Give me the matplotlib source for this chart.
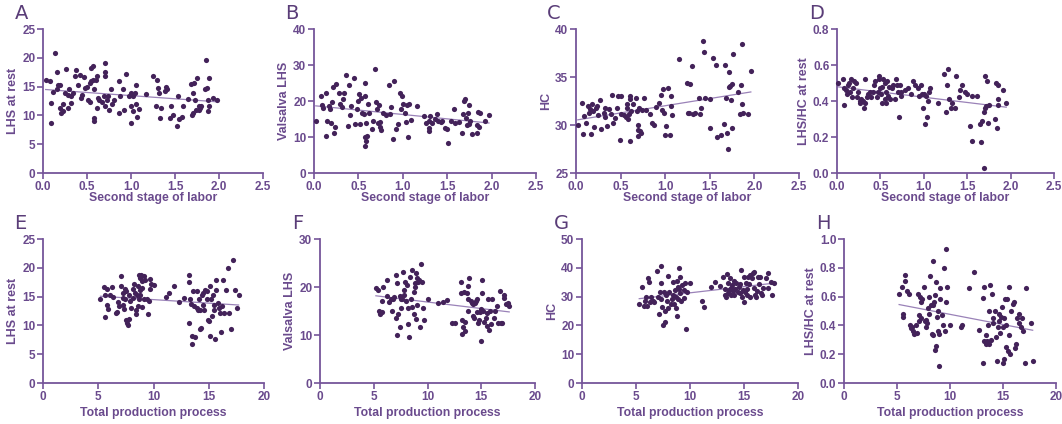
import numpy as np
import matplotlib
matplotlib.use("Agg")
import matplotlib.pyplot as plt
from matplotlib.ticker import FormatStrFormatter

plt.rcParams['font.family'] = ['Liberation Sans', 'DejaVu Sans']

# ---------------- data ----------------
A_x = [0.03,0.08,0.09,0.09,0.11,0.14,0.16,0.16,0.17,0.19,0.19,0.21,0.23,0.23,0.25,0.26,0.28,0.29,0.28,0.32,
       0.32,0.34,0.36,0.38,0.40,0.42,0.43,0.44,0.47,0.48,0.50,0.51,0.53,0.53,0.55,0.55,0.57,0.57,0.58,0.58,
       0.58,0.60,0.61,0.61,0.63,0.64,0.67,0.69,0.70,0.71,0.71,0.71,0.73,0.74,0.75,0.77,0.78,0.81,0.86,0.86,
       0.88,0.91,0.92,0.94,0.98,1.00,1.00,1.00,1.02,1.02,1.04,1.06,1.06,1.07,1.09,1.17,1.25,1.28,1.30,1.31,
       1.32,1.33,1.34,1.39,1.40,1.41,1.44,1.46,1.48,1.52,1.53,1.55,1.58,1.59,1.65,1.68,1.69,1.70,1.70,1.72,
       1.73,1.74,1.75,1.77,1.77,1.78,1.80,1.84,1.85,1.86,1.88,1.88,1.89,1.89,1.93,1.98]
A_y = [16.2,15.9,12.2,8.7,14.0,20.8,17.5,14.5,15.3,15.3,11.3,10.4,11.9,10.7,13.9,18.1,13.6,14.5,11.2,12.2,
       13.3,13.9,16.8,17.8,15.2,17.1,13.0,13.6,16.7,14.8,15.0,12.7,12.4,15.6,15.9,18.2,16.2,18.5,14.5,9.5,
       9.0,16.2,16.8,11.3,13.0,12.7,12.4,13.3,16.9,17.6,19.1,11.6,12.7,13.3,11.0,14.5,11.9,12.7,15.9,10.4,
       13.3,14.5,11.0,17.2,13.3,13.9,11.7,8.6,13.3,10.7,13.9,15.3,12.0,9.8,11.1,13.7,16.9,11.6,16.1,14.8,
       13.9,9.5,11.3,14.2,14.9,14.6,9.5,11.6,10.1,8.1,13.3,9.3,9.8,11.7,12.9,15.5,10.1,10.5,13.9,15.6,
       12.7,11.0,16.5,11.6,11.0,11.3,11.6,14.6,19.7,14.8,12.7,10.8,16.5,11.7,13.0,12.7]

B_x = [0.02,0.08,0.09,0.10,0.13,0.14,0.15,0.17,0.18,0.19,0.20,0.21,0.23,0.24,0.25,0.28,0.29,0.31,0.33,0.34,
       0.36,0.38,0.39,0.40,0.42,0.45,0.46,0.48,0.50,0.51,0.52,0.53,0.54,0.56,0.57,0.57,0.57,0.57,0.59,0.59,
       0.60,0.61,0.62,0.65,0.67,0.69,0.70,0.71,0.72,0.73,0.74,0.74,0.76,0.78,0.81,0.85,0.86,0.87,0.89,0.90,
       0.92,0.95,0.97,0.98,0.99,1.00,1.02,1.04,1.05,1.06,1.07,1.09,1.16,1.24,1.26,1.29,1.29,1.30,1.31,1.33,
       1.36,1.39,1.40,1.43,1.44,1.47,1.50,1.51,1.54,1.58,1.59,1.63,1.67,1.68,1.69,1.70,1.71,1.72,1.73,1.74,
       1.75,1.76,1.78,1.83,1.84,1.85,1.86,1.87,1.93,1.97]
B_y = [14.4,21.4,18.8,18.1,10.2,22.3,14.4,18.6,17.9,13.8,19.7,24.0,11.2,12.8,24.7,22.3,19.1,18.4,20.5,22.3,
       27.2,13.0,24.4,16.0,18.6,26.3,13.5,17.7,20.0,22.0,13.5,20.7,16.7,16.3,24.9,10.0,7.6,21.4,14.0,8.8,
       10.2,19.3,16.7,12.3,14.4,28.8,19.7,17.7,14.0,18.8,12.8,14.1,11.9,16.6,16.0,24.4,16.3,18.4,9.5,25.6,
       12.3,13.5,22.3,17.7,21.4,19.3,16.6,14.1,18.8,10.0,19.1,14.7,18.6,15.8,13.8,14.4,12.6,11.8,15.8,13.8,
       14.9,16.5,14.4,14.1,14.4,12.6,12.1,8.2,14.4,17.9,13.8,14.1,11.0,16.3,20.0,20.5,15.3,13.2,16.7,18.8,
       13.5,14.4,10.7,11.0,13.2,16.9,12.8,16.7,14.4,16.0]

C_x = [0.02,0.07,0.08,0.09,0.11,0.14,0.15,0.16,0.17,0.18,0.19,0.20,0.22,0.23,0.25,0.27,0.28,0.31,0.32,0.33,
       0.35,0.37,0.39,0.40,0.42,0.44,0.46,0.47,0.49,0.50,0.51,0.54,0.56,0.57,0.57,0.58,0.59,0.60,0.60,0.61,
       0.62,0.64,0.67,0.68,0.69,0.70,0.70,0.71,0.72,0.73,0.74,0.76,0.79,0.83,0.85,0.87,0.90,0.93,0.95,0.96,
       0.98,0.99,1.00,1.01,1.03,1.05,1.06,1.07,1.08,1.15,1.24,1.25,1.27,1.28,1.30,1.31,1.33,1.38,1.39,1.40,
       1.42,1.43,1.45,1.50,1.50,1.54,1.57,1.58,1.63,1.66,1.67,1.68,1.69,1.70,1.71,1.71,1.73,1.74,1.75,1.75,
       1.76,1.82,1.84,1.85,1.86,1.86,1.87,1.93,1.96]
C_y = [29.95,32.3,29.1,30.9,30.2,32.0,31.3,31.7,29.1,32.2,31.5,29.8,31.8,32.0,31.0,32.6,29.6,31.3,31.8,30.8,
       29.9,31.7,31.1,33.1,30.2,30.7,31.8,33.0,28.4,33.0,31.1,31.0,30.8,32.2,31.8,30.6,31.1,28.3,32.7,33.0,
       31.5,32.2,32.8,31.5,30.0,29.5,28.9,31.8,29.4,29.2,31.6,32.8,31.6,31.1,30.2,30.0,31.9,32.3,33.1,31.6,
       33.8,31.3,29.0,29.9,33.9,29.0,33.0,32.0,31.0,36.9,34.4,31.3,31.3,34.3,36.1,31.1,31.3,32.8,31.1,31.8,
       38.8,37.6,32.8,32.7,29.7,37.0,36.3,28.7,29.0,30.1,36.3,32.8,29.2,27.5,34.0,35.5,34.1,32.6,34.3,29.7,
       37.4,33.4,31.1,34.2,32.2,38.4,31.3,31.1,35.6]

D_x = [0.01,0.07,0.08,0.08,0.10,0.11,0.13,0.14,0.15,0.16,0.17,0.19,0.20,0.22,0.23,0.24,0.26,0.27,0.28,0.30,
       0.31,0.32,0.32,0.34,0.36,0.38,0.39,0.42,0.43,0.44,0.46,0.47,0.48,0.48,0.50,0.51,0.52,0.52,0.53,0.55,
       0.55,0.56,0.57,0.58,0.59,0.60,0.61,0.63,0.65,0.67,0.68,0.69,0.70,0.71,0.73,0.74,0.74,0.78,0.82,0.85,
       0.88,0.90,0.93,0.95,0.97,0.98,0.99,1.00,1.01,1.03,1.04,1.05,1.06,1.07,1.16,1.23,1.25,1.27,1.28,1.29,
       1.31,1.32,1.36,1.37,1.40,1.42,1.44,1.48,1.50,1.53,1.55,1.56,1.61,1.65,1.66,1.67,1.69,1.69,1.70,1.71,
       1.72,1.73,1.74,1.75,1.82,1.83,1.84,1.85,1.86,1.86,1.91,1.95]
D_y = [0.50,0.52,0.47,0.38,0.46,0.44,0.49,0.50,0.45,0.52,0.42,0.47,0.51,0.50,0.42,0.45,0.40,0.39,0.41,0.40,
       0.36,0.52,0.39,0.42,0.44,0.45,0.42,0.45,0.49,0.51,0.42,0.45,0.54,0.52,0.47,0.44,0.39,0.48,0.52,0.41,
       0.50,0.45,0.39,0.51,0.43,0.48,0.41,0.47,0.49,0.41,0.52,0.49,0.45,0.31,0.49,0.45,0.43,0.46,0.47,0.44,
       0.51,0.49,0.47,0.43,0.49,0.44,0.36,0.44,0.27,0.43,0.31,0.40,0.45,0.47,0.39,0.55,0.34,0.49,0.58,0.41,
       0.36,0.39,0.36,0.54,0.42,0.46,0.49,0.45,0.44,0.26,0.43,0.18,0.43,0.27,0.17,0.29,0.34,0.03,0.54,0.36,
       0.37,0.51,0.28,0.38,0.30,0.50,0.25,0.41,0.49,0.38,0.46,0.39]

E_x = [5.2,5.5,5.6,5.6,5.8,5.8,5.9,6.1,6.2,6.3,6.6,6.7,6.8,6.9,7.1,7.1,7.2,7.2,7.2,7.3,
       7.4,7.4,7.5,7.5,7.6,7.7,7.8,7.8,7.9,8.0,8.1,8.1,8.2,8.3,8.4,8.4,8.5,8.6,8.6,8.7,
       8.7,8.8,8.8,8.8,8.9,9.0,9.0,9.0,9.1,9.1,9.2,9.4,9.5,9.6,9.7,9.7,9.8,10.0,11.1,11.4,
       11.9,12.3,12.8,13.2,13.2,13.2,13.3,13.4,13.5,13.5,13.6,13.7,13.8,13.9,13.9,14.0,14.1,14.2,14.2,14.3,
       14.4,14.5,14.5,14.6,14.7,14.8,14.8,14.9,15.0,15.1,15.1,15.2,15.3,15.4,15.5,15.5,15.6,15.7,15.7,15.8,
       15.9,16.0,16.1,16.2,16.3,16.4,16.6,16.7,16.8,17.0,17.2,17.4,17.6,17.7]
E_y = [14.6,16.7,11.5,15.2,16.3,13.6,12.8,15.2,16.7,15.0,12.2,12.4,14.0,13.3,18.6,16.9,15.7,14.8,13.6,12.8,
       16.3,14.5,15.9,11.0,10.5,10.1,11.1,15.3,14.2,13.0,14.8,16.3,17.2,15.7,11.9,12.7,15.3,16.9,13.3,14.6,
       18.8,16.2,18.2,15.2,18.7,17.7,13.2,16.5,18.5,14.6,17.9,14.5,11.9,14.2,18.1,16.3,17.2,17.1,14.9,15.7,
       16.9,14.0,14.8,18.8,17.5,10.4,14.5,13.8,6.7,8.1,15.9,13.3,8.0,15.9,13.0,12.7,14.6,9.4,12.7,9.5,
       15.2,13.6,15.6,12.7,16.2,14.5,15.9,11.0,10.7,16.9,8.1,14.6,11.6,15.3,13.6,12.7,7.6,17.8,16.2,13.9,
       13.0,12.2,8.8,13.3,17.9,12.2,16.2,20.0,12.2,9.3,21.4,16.1,13.0,15.3]

F_x = [5.2,5.4,5.5,5.6,5.8,5.8,5.9,6.2,6.2,6.4,6.6,6.7,6.8,6.9,7.1,7.1,7.2,7.2,7.3,7.4,
       7.4,7.5,7.5,7.6,7.7,7.8,7.8,7.9,8.0,8.1,8.2,8.2,8.3,8.4,8.5,8.6,8.6,8.7,8.7,8.8,
       8.8,8.9,8.9,9.0,9.0,9.1,9.2,9.3,9.4,9.5,9.6,9.7,10.0,11.0,11.4,11.8,12.3,12.6,13.1,13.1,
       13.2,13.2,13.3,13.4,13.5,13.5,13.7,13.8,13.8,13.8,13.9,14.0,14.1,14.2,14.2,14.3,14.4,14.5,14.6,14.6,
       14.7,14.8,14.9,15.0,15.0,15.1,15.1,15.2,15.3,15.4,15.5,15.5,15.6,15.7,15.8,15.9,16.0,16.2,16.3,16.5,
       16.6,16.7,16.8,16.9,17.1,17.1,17.3,17.5,17.6]
F_y = [19.8,19.4,14.9,14.4,14.7,17.0,20.0,18.2,21.4,16.8,17.4,14.9,17.5,17.9,22.6,13.5,9.9,20.8,14.4,18.2,
       11.7,17.4,15.6,17.5,23.1,19.4,18.4,21.0,17.0,20.5,12.2,15.6,9.6,22.1,17.4,23.6,15.8,14.4,18.9,20.0,
       20.8,22.9,13.3,21.9,16.3,21.0,21.5,11.7,24.7,21.0,15.6,13.1,17.4,16.7,16.8,17.2,12.6,12.4,21.0,18.8,
       13.2,10.3,11.7,18.9,12.8,10.8,18.8,20.3,14.9,17.5,21.9,17.0,16.7,16.5,14.0,13.5,16.7,17.0,14.7,17.5,
       12.5,13.2,14.7,15.4,8.7,18.8,21.4,14.9,12.8,13.5,14.6,11.8,17.4,11.1,15.1,12.3,17.5,13.5,15.1,16.1,
       12.6,19.1,12.6,12.4,18.4,17.7,16.5,16.7,16.0]

G_x = [5.3,5.6,5.7,5.8,5.9,6.0,6.1,6.2,6.3,6.4,6.6,6.7,6.9,7.0,7.1,7.2,7.3,7.3,7.3,7.4,
       7.5,7.6,7.7,7.7,7.8,7.9,8.0,8.0,8.1,8.2,8.3,8.4,8.4,8.5,8.6,8.7,8.7,8.8,8.8,8.9,
       8.9,9.0,9.0,9.1,9.1,9.2,9.3,9.4,9.4,9.5,9.6,9.7,10.0,11.1,11.3,11.9,12.3,12.8,13.1,13.2,
       13.2,13.3,13.4,13.5,13.5,13.6,13.7,13.8,13.8,13.9,14.0,14.1,14.1,14.2,14.3,14.4,14.5,14.6,14.6,14.7,
       14.8,14.9,15.0,15.0,15.1,15.2,15.3,15.3,15.4,15.5,15.6,15.6,15.7,15.8,15.9,15.9,16.0,16.1,16.2,16.3,
       16.4,16.5,16.6,16.7,16.8,17.0,17.2,17.2,17.5,17.6,17.8]
G_y = [27.6,33.3,26.8,28.3,29.8,26.8,36.3,35.1,28.0,29.8,28.3,28.0,39.0,29.8,24.0,31.5,40.7,34.8,29.2,26.4,
       20.2,31.5,25.0,21.2,30.7,28.6,26.2,37.1,31.5,27.4,29.2,35.1,30.7,27.6,32.4,26.2,30.0,35.5,23.2,33.3,
       29.2,39.9,32.7,36.9,31.2,28.6,33.9,32.4,29.5,34.8,18.8,31.5,34.8,28.6,26.4,33.3,35.1,33.6,36.7,30.4,
       32.7,30.0,37.9,34.8,31.2,32.4,36.3,33.1,30.7,33.9,32.1,35.5,30.7,32.7,34.8,31.5,33.3,34.3,31.2,39.3,
       30.0,32.4,36.9,28.0,31.5,34.8,32.7,30.4,36.9,34.3,37.5,30.0,36.3,38.3,33.1,38.7,30.7,29.8,31.9,36.9,
       34.5,36.7,31.2,30.4,33.1,36.3,38.3,33.1,35.1,30.7,34.8]

H_x = [5.2,5.5,5.6,5.6,5.8,5.8,5.9,6.1,6.2,6.3,6.4,6.5,6.6,6.8,6.9,7.0,7.1,7.1,7.2,7.3,
       7.3,7.4,7.5,7.6,7.7,7.7,7.8,7.9,8.0,8.0,8.1,8.2,8.3,8.4,8.4,8.4,8.5,8.6,8.6,8.7,
       8.7,8.8,8.9,8.9,9.0,9.0,9.1,9.1,9.2,9.3,9.4,9.5,9.6,9.6,9.7,10.0,11.0,11.1,11.8,12.3,
       12.7,13.1,13.1,13.2,13.2,13.4,13.4,13.5,13.6,13.7,13.7,13.8,13.9,14.0,14.1,14.1,14.2,14.3,14.4,14.5,
       14.6,14.6,14.7,14.8,14.9,15.0,15.0,15.1,15.1,15.2,15.3,15.3,15.4,15.5,15.6,15.6,15.7,15.8,15.9,16.0,
       16.1,16.2,16.3,16.5,16.5,16.7,16.8,16.9,17.1,17.2,17.6,17.8]
H_y = [0.62,0.67,0.48,0.46,0.75,0.71,0.64,0.62,0.40,0.38,0.39,0.36,0.34,0.40,0.35,0.62,0.47,0.43,0.60,0.56,
       0.45,0.58,0.67,0.43,0.39,0.44,0.42,0.52,0.60,0.48,0.74,0.54,0.34,0.33,0.85,0.54,0.56,0.61,0.23,0.26,
       0.70,0.46,0.50,0.36,0.34,0.12,0.58,0.66,0.47,0.40,0.80,0.36,0.56,0.93,0.67,0.40,0.39,0.40,0.66,0.77,
       0.37,0.59,0.14,0.67,0.29,0.33,0.27,0.29,0.40,0.27,0.50,0.68,0.30,0.62,0.42,0.45,0.50,0.32,0.15,0.39,
       0.43,0.48,0.35,0.46,0.53,0.39,0.14,0.17,0.45,0.58,0.40,0.25,0.58,0.22,0.33,0.67,0.20,0.50,0.55,0.56,
       0.24,0.27,0.45,0.42,0.48,0.39,0.45,0.36,0.14,0.66,0.42,0.15]

letters = ["A", "B", "C", "D", "E", "F", "G", "H"]
xlabels = ["Second stage of labor"] * 4 + ["Total production process"] * 4
ylabels = ["LHS at rest", "Valsalva LHS", "HC", "LHS/HC at rest"] * 2
yticks = [[0, 5, 10, 15, 20, 25], [0, 10, 20, 30, 40], [25, 30, 35, 40], [0.0, 0.2, 0.4, 0.6, 0.8],
          [0, 5, 10, 15, 20, 25], [0, 10, 20, 30], [0, 10, 20, 30, 40, 50], [0.0, 0.2, 0.4, 0.6, 0.8, 1.0]]
xticks_top = [0.0, 0.5, 1.0, 1.5, 2.0, 2.5]
xticks_bot = [0, 5, 10, 15, 20]
yfmt = ["%d", "%d", "%d", "%.1f", "%d", "%d", "%d", "%.1f"]

series = [(A_x, A_y), (B_x, B_y), (C_x, C_y), (D_x, D_y),
          (E_x, E_y), (F_x, F_y), (G_x, G_y), (H_x, H_y)]

# ---------------- layout ----------------
W, H = 1062, 424
boxes = [(43, 263, 29, 173), (314, 536, 29, 173), (576, 799, 29, 173), (837, 1054, 29, 173),
         (43, 264, 239, 383), (320, 535, 239, 383), (582, 798, 239, 383), (844, 1056, 239, 383)]

AX = "#75559a"
TXT = "#6a4a8d"
DOT = "#432259"
LINE = "#9a82b8"

fig = plt.figure(figsize=(W / 100, H / 100), dpi=100)
for i, ((xs, ys), (l, r, t, b)) in enumerate(zip(series, boxes)):
    ax = fig.add_axes([l / W, (H - b) / H, (r - l) / W, (b - t) / H])
    xs = np.asarray(xs); ys = np.asarray(ys)
    ax.scatter(xs, ys, s=14, color=DOT, linewidths=0, zorder=3, clip_on=False)
    k, c = np.polyfit(xs, ys, 1)
    xx = np.array([xs.min(), xs.max()])
    ax.plot(xx, k * xx + c, color=LINE, lw=0.9, zorder=2)
    top = i < 4
    if top:
        ax.set_xlim(0, 2.5)
        ax.set_xticks(xticks_top)
        ax.xaxis.set_major_formatter(FormatStrFormatter("%.1f"))
    else:
        ax.set_xlim(0, 20)
        ax.set_xticks(xticks_bot)
    yt = yticks[i]
    ax.set_ylim(yt[0], yt[-1])
    ax.set_yticks(yt)
    ax.yaxis.set_major_formatter(FormatStrFormatter(yfmt[i]))
    for s in ["top", "right"]:
        ax.spines[s].set_visible(False)
    for s in ["left", "bottom"]:
        ax.spines[s].set_color(AX)
        ax.spines[s].set_linewidth(1.3)
    ax.tick_params(colors=AX, width=1.2, length=4, labelcolor=TXT, labelsize=8.5, pad=1.5)
    for lab in ax.get_xticklabels() + ax.get_yticklabels():
        lab.set_fontweight("bold")
    ax.set_xlabel(xlabels[i], fontsize=8.8, fontweight="bold", color=TXT,
                  labelpad=-0.8 if top else 3)
    ax.set_ylabel(ylabels[i], fontsize=9, fontweight="bold", color=TXT, labelpad=2)
    ax.text(-0.13, 1.04, letters[i], transform=ax.transAxes, fontsize=14, color="#5a3d78",
            family="DejaVu Sans", va="bottom", ha="left")

fig.savefig("out.png", dpi=100)
